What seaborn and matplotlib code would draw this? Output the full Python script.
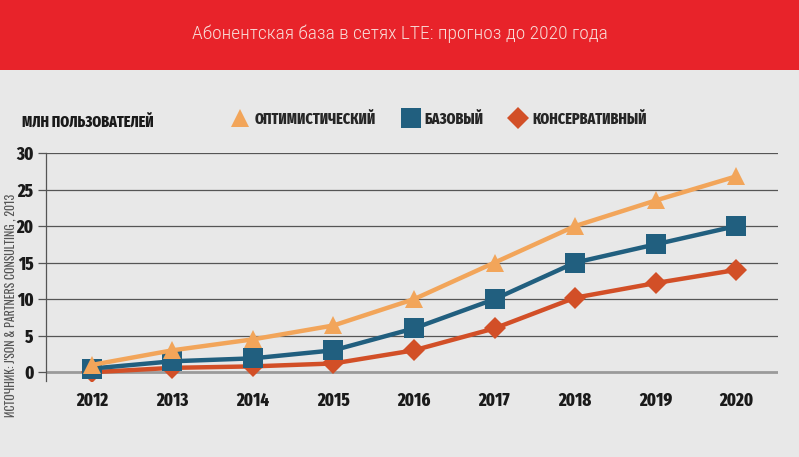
import matplotlib
matplotlib.use("Agg")
import matplotlib.pyplot as plt
import matplotlib.patches as mpatches
from matplotlib.lines import Line2D
import seaborn as sns
import pandas as pd

years = ["2012", "2013", "2014", "2015", "2016", "2017", "2018", "2019", "2020"]
optimistic = [1.0, 3.0, 4.5, 6.4, 10.0, 15.0, 20.0, 23.5, 26.8]
base = [0.5, 1.5, 1.9, 3.0, 6.0, 10.0, 15.0, 17.5, 20.0]
conservative = [0.0, 0.6, 0.8, 1.2, 3.0, 6.0, 10.2, 12.2, 14.0]
series_names = ["ОПТИМИСТИЧЕСКИЙ", "БАЗОВЫЙ", "КОНСЕРВАТИВНЫЙ"]
yticks = [0, 5, 10, 15, 20, 25, 30]
title = "Абонентская база в сетях LTE: прогноз до 2020 года"
ylabel = "МЛН ПОЛЬЗОВАТЕЛЕЙ"
source = "ИСТОЧНИК: J'SON & PARTNERS CONSULTING , 2013"

sns.set_theme(style="white")
BOLD = ["Fira Sans Extra Condensed", "Roboto Condensed", "DejaVu Sans"]
LIGHT = ["Roboto Condensed", "Oswald", "DejaVu Sans"]
THIN = ["Oswald", "Roboto Condensed", "DejaVu Sans"]
plt.rcParams["font.family"] = BOLD

BG = "#e8e8e8"
RED = "#e8232a"
colors = ["#f2a55a", "#215f7f", "#d24f27"]
markers = ["^", "s", "D"]
msizes = [13, 14.5, 11.5]

fig = plt.figure(figsize=(7.99, 4.57), dpi=100, facecolor=BG)
fig.patches.append(mpatches.Rectangle((0, 1 - 70 / 457), 1, 70 / 457, transform=fig.transFigure,
                                      facecolor=RED, edgecolor="none", zorder=0))
fig.text(400 / 799, 1 - 34 / 457, title, ha="center", va="center", color="#f8dcd8",
         fontsize=14, fontweight=300, family=LIGHT)

ax = fig.add_axes([46 / 799, 1 - 381 / 457, (778 - 46) / 799, (381 - 153) / 457])
ax.set_facecolor(BG)

df = pd.DataFrame({"x": list(range(len(years))) * 3,
                   "value": optimistic + base + conservative,
                   "series": sum([[n] * len(years) for n in series_names], [])})
for i, name in enumerate(series_names):
    sub = df[df["series"] == name]
    sns.lineplot(data=sub, x="x", y="value", ax=ax, color=colors[i], linewidth=3.2,
                 marker=markers[i], markersize=msizes[i], markeredgewidth=0, zorder=8 - i)

ax.set_xlim(-0.57, 8.52)
ax.set_ylim(-1.2, 30)
for v in yticks[1:]:
    ax.axhline(v, color="#555555", linewidth=0.9, zorder=1)
ax.axhline(0, color="#9a9a9a", linewidth=2.0, zorder=1)
for s in ["top", "right", "bottom"]:
    ax.spines[s].set_visible(False)
ax.spines["left"].set_color("#555555")
ax.spines["left"].set_linewidth(0.9)
ax.set_yticks(yticks)
ax.set_yticklabels([str(v) for v in yticks], fontsize=13, fontweight=800, color="#1a1a1a")
ax.tick_params(axis="y", length=6, width=0.9, color="#555555", pad=3, left=True)
ax.set_xticks(range(len(years)))
ax.set_xticklabels(years, fontsize=13, fontweight=800, color="#1a1a1a")
ax.tick_params(axis="x", length=0, pad=8)
ax.set_xlabel("")
ax.set_ylabel("")

fig.text(22 / 799, 1 - 122 / 457, ylabel, ha="left", va="center", fontsize=11,
         fontweight=800, color="#1a1a1a")

handles = [Line2D([], [], linestyle="none", marker=markers[i], color=colors[i],
                  markersize=msizes[i], markeredgewidth=0) for i in range(3)]
leg = fig.legend(handles, series_names, loc="center", bbox_to_anchor=(439 / 799, 1 - 119 / 457),
                 ncol=3, frameon=False, prop={"family": BOLD, "weight": 800, "size": 11},
                 handletextpad=0.3, columnspacing=1.7, handlelength=1.2)

fig.text(10 / 799, 1 - 305 / 457, source, rotation=90, ha="center", va="center",
         fontsize=8.5, color="#555555", family=THIN)

fig.savefig("out.png", dpi=100, facecolor=BG)
